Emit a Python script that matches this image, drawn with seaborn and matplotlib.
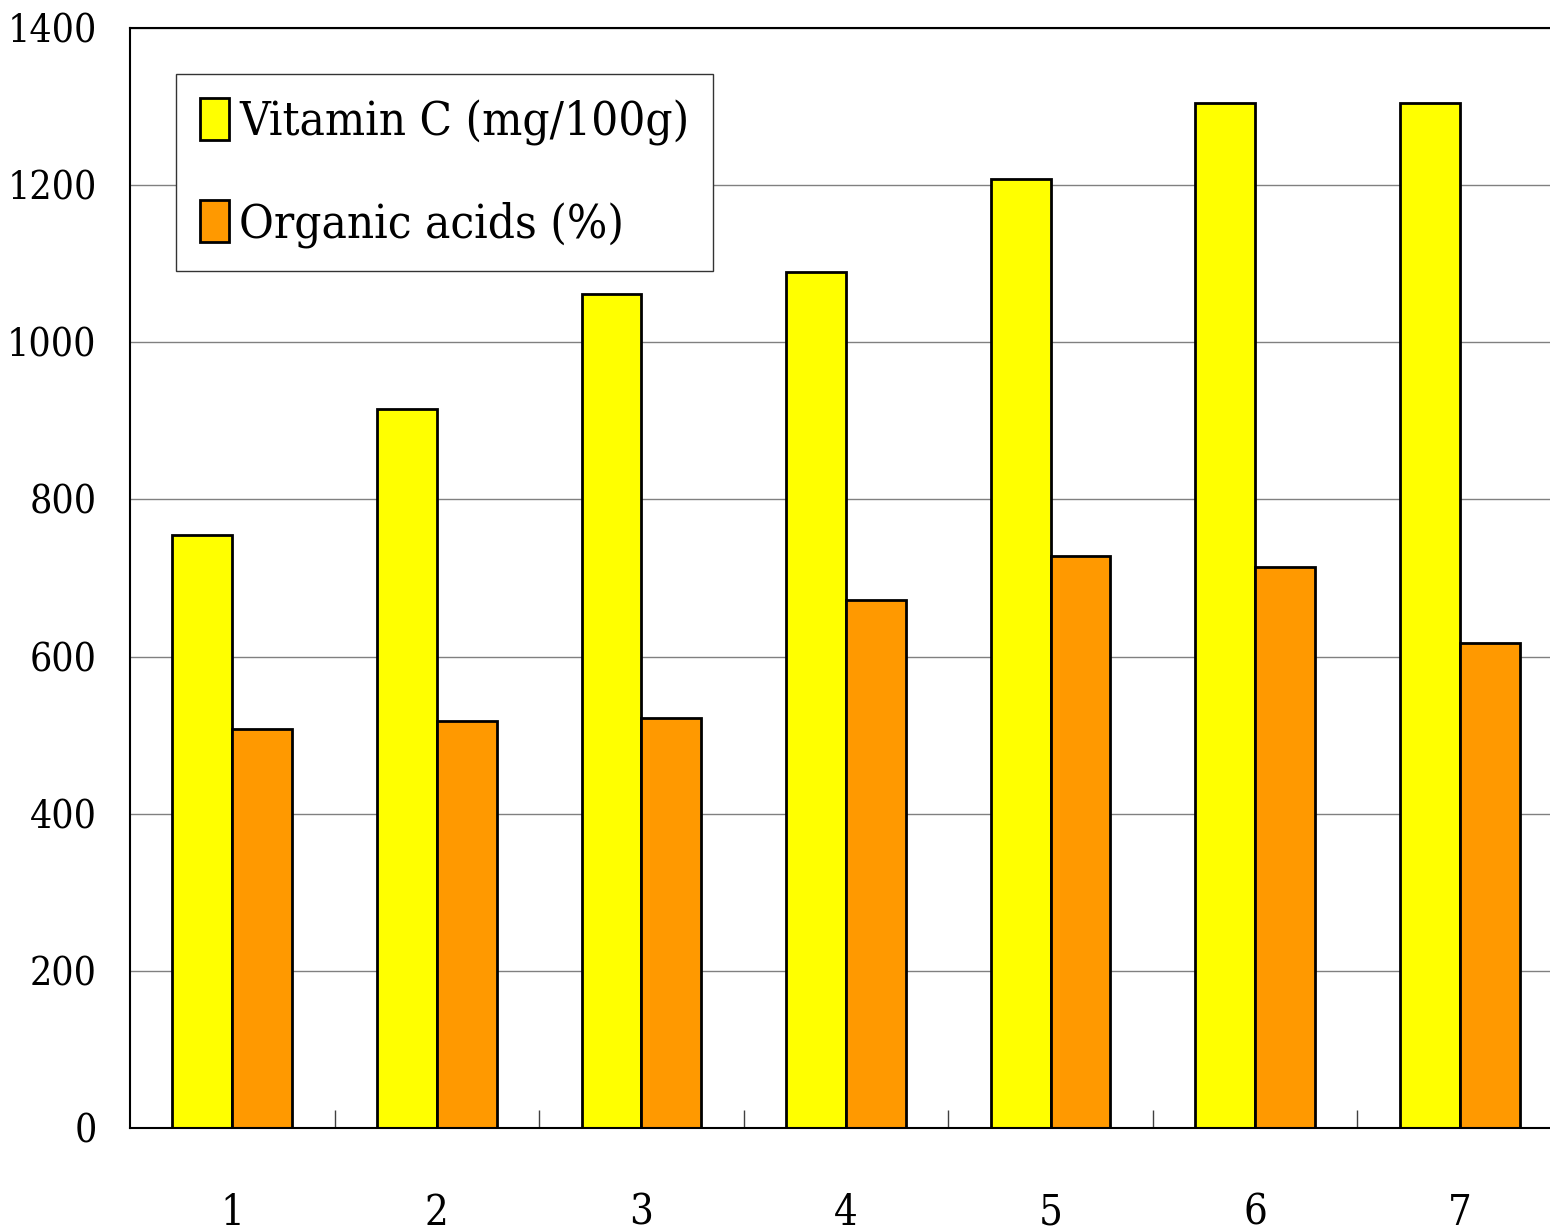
import matplotlib
matplotlib.use("Agg")
import matplotlib.pyplot as plt
import seaborn as sns
import pandas as pd

samples = ["1", "2", "3", "4", "5", "6", "7"]
vitamin_c = [755, 915, 1061, 1089, 1208, 1305, 1305]
organic_acids = [508, 518, 522, 672, 728, 714, 617]
series_names = ["Vitamin C (mg/100g)", "Organic acids (%)"]
series_colors = ["#FFFF00", "#FF9900"]
y_ticks = [0, 200, 400, 600, 800, 1000, 1200, 1400]

df = pd.DataFrame({
    "sample": samples * 2,
    "value": vitamin_c + organic_acids,
    "series": [series_names[0]] * len(samples) + [series_names[1]] * len(samples),
})

sns.set_theme(style="white")
plt.rcParams['font.family'] = ['DejaVu Serif']
plt.rcParams['font.stretch'] = 'condensed'
plt.rcParams['text.color'] = 'black'
plt.rcParams['xtick.color'] = 'black'
plt.rcParams['ytick.color'] = 'black'

fig = plt.figure(figsize=(15.5, 12.32), dpi=100)
ax = fig.add_axes([130 / 1550, 104 / 1232, 1432 / 1550, 1100 / 1232])

sns.barplot(data=df, x="sample", y="value", hue="series", palette=series_colors,
            saturation=1, width=0.585, edgecolor="black", linewidth=2.0, ax=ax,
            errorbar=None)

ax.set_xlim(-0.5, len(samples) - 0.5)
ax.set_ylim(0, 1400)
ax.set_yticks(y_ticks)
ax.set_yticklabels([str(t) for t in y_ticks])
ax.set_xlabel("")
ax.set_ylabel("")
ax.yaxis.grid(True, color="#808080", linewidth=1.0)
ax.xaxis.grid(False)
ax.set_axisbelow(True)

ax.tick_params(axis="y", length=0, pad=24, labelsize=28, labelcolor="black")
ax.tick_params(axis="x", which="major", length=0, pad=46, labelsize=30, labelcolor="black")
ax.set_xticks([i + 0.5 for i in range(len(samples) - 1)], minor=True)
ax.tick_params(axis="x", which="minor", bottom=True, direction="in", length=13,
               width=1, color="#404040")

for side in ["left", "bottom", "top"]:
    ax.spines[side].set_visible(True)
    ax.spines[side].set_color("black")
    ax.spines[side].set_linewidth(1.5)
ax.spines["right"].set_visible(False)

handles, labels = ax.get_legend_handles_labels()
if ax.get_legend() is not None:
    ax.get_legend().remove()
leg = ax.legend(handles, labels, loc="upper left", bbox_to_anchor=(0.0321, 0.958),
                borderaxespad=0, fontsize=34, frameon=True, fancybox=False,
                edgecolor="#333333", framealpha=1, handlelength=0.62, handleheight=1.0,
                handletextpad=0.22, labelspacing=1.15, borderpad=0.5)
leg.get_frame().set_linewidth(1.0)
for t in leg.get_texts():
    t.set_color("black")

fig.savefig("out.png", dpi=100, facecolor="white")
